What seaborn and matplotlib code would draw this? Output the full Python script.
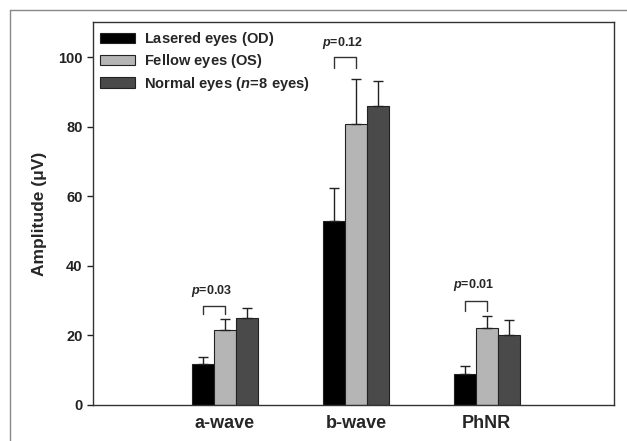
import pandas as pd
import numpy as np
import matplotlib
matplotlib.use("Agg")
import matplotlib.pyplot as plt
from matplotlib.lines import Line2D
import seaborn as sns

# Data
waves = ["a-wave", "b-wave", "PhNR"]
groups = [r"$\mathrm{Lasered\ eyes\ (OD)}$",
          r"$\mathrm{Fellow\ eyes\ (OS)}$",
          r"$\mathrm{Normal\ eyes\ (}n\!=\!\mathrm{8\ eyes)}$"]
od_mean = [11.8, 53.0, 8.8]
os_mean = [21.6, 80.9, 22.1]
normal_mean = [25.1, 85.9, 20.0]
od_err = [2.1, 9.3, 2.4]
os_err = [3.2, 12.9, 3.5]
normal_err = [2.8, 7.3, 4.3]
p_labels = ["$p$=0.03", "$p$=0.12", "$p$=0.01"]
bracket_top = [28.3, 100.0, 30.0]
bracket_low = [26.0, 96.9, 27.0]
p_text_y = [32.7, 104.1, 34.6]

colors = ["#000000", "#b5b5b5", "#4a4a4a"]

sns.set_style("white")
plt.rcParams["font.family"] = ["Liberation Sans", "DejaVu Sans"]
plt.rcParams["font.weight"] = "bold"
plt.rcParams["mathtext.fontset"] = "custom"
plt.rcParams["mathtext.it"] = "Liberation Sans:italic:bold"
plt.rcParams["mathtext.rm"] = "Liberation Sans:bold"
plt.rcParams["mathtext.bf"] = "Liberation Sans:bold"

df = pd.DataFrame({
    "wave": waves * 3,
    "group": [groups[0]] * 3 + [groups[1]] * 3 + [groups[2]] * 3,
    "amp": od_mean + os_mean + normal_mean,
})
errs = [od_err, os_err, normal_err]

fig = plt.figure(figsize=(6.27, 4.41), dpi=100)
ax = fig.add_axes([0.148, 0.082, 0.831, 0.867])

sns.barplot(data=df, x="wave", y="amp", hue="group", hue_order=groups,
            palette=colors, width=0.5, gap=0, edgecolor="#222222",
            linewidth=0.8, errorbar=None, ax=ax)

# upper error bars
centers = []
for cont, err in zip(ax.containers, errs):
    xs = [p.get_x() + p.get_width() / 2 for p in cont]
    ys = [p.get_height() for p in cont]
    centers.append(xs)
    ax.errorbar(xs, ys, yerr=[np.zeros(len(err)), err], fmt="none",
                ecolor="#222222", elinewidth=1, capsize=3.5, capthick=1,
                zorder=3)

# significance brackets between OD and OS
for i in range(len(waves)):
    x0, x1 = centers[0][i], centers[1][i]
    ax.plot([x0, x0, x1, x1],
            [bracket_low[i], bracket_top[i], bracket_top[i], bracket_low[i]],
            color="#333333", lw=1)
    ax.text((x0 + x1) / 2 - 0.02, p_text_y[i], p_labels[i], ha="center",
            va="center", fontsize=9, fontweight="bold")

ax.set_xlim(-1.01, 2.97)
ax.set_ylim(0, 110)
ax.set_yticks([0, 20, 40, 60, 80, 100])
ax.set_xlabel("")
ax.set_ylabel("Amplitude (\u03bcV)", fontsize=12.5, fontweight="bold",
              labelpad=8)
ax.tick_params(axis="y", direction="out", length=4, width=1,
               labelsize=10.5, colors="#222222", left=True)
ax.tick_params(axis="x", length=0, labelsize=13, pad=7)
for lbl in ax.get_xticklabels() + ax.get_yticklabels():
    lbl.set_fontweight("bold")
for sp in ax.spines.values():
    sp.set_color("#333333")
    sp.set_linewidth(1)

handles, labels = ax.get_legend_handles_labels()
ax.legend(handles, labels, loc="upper left", frameon=False, fontsize=10.5,
          handlelength=2.4, handleheight=0.7, labelspacing=0.3,
          handletextpad=0.6, borderaxespad=0.3, borderpad=0.2)

# outer frame of the figure panel
fig.add_artist(Line2D([10 / 627, 10 / 627], [0, 1 - 10 / 441],
                      transform=fig.transFigure, color="#888888", lw=1))
fig.add_artist(Line2D([10 / 627, 1], [1 - 10 / 441, 1 - 10 / 441],
                      transform=fig.transFigure, color="#888888", lw=1))

fig.savefig("out.png", dpi=100)
